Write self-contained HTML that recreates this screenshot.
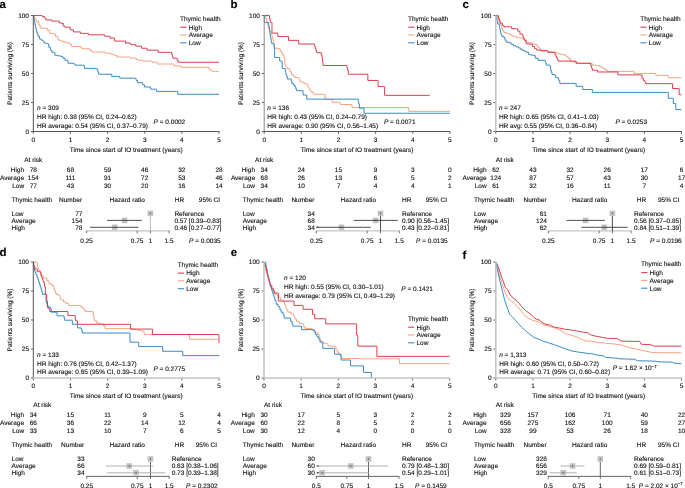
<!DOCTYPE html>
<html><head><meta charset="utf-8"><style>
html,body{margin:0;padding:0;background:#fff;width:685px;height:488px;overflow:hidden}
svg{display:block;will-change:transform}
text{font-family:"Liberation Sans",sans-serif;text-rendering:geometricPrecision;stroke:#111;stroke-width:0.12px}
</style></head><body>
<svg width="685" height="488" viewBox="0 0 685 488">
<rect width="685" height="488" fill="#fff"/>
<path d="M33.21,15.55H34.38V18.03H35.47V19.85H36.57V21.68H38.76V24.60H39.85V26.42H40.95V28.25H46.06V28.25H47.52V30.44H49.71V33.36H53.36V34.09H55.55V36.28H57.74V39.20H59.20V40.66H61.63V41.39H64.06V42.12H66.50V42.85H69.42V44.31H71.61V46.50H80.36V47.23H81.82V48.69H86.93V48.69H89.85V50.58H92.04V52.04H102.99V52.04H105.18V53.07H110.29V53.80H112.12V54.53H113.94V55.26H116.86V57.01H130.00V57.01H130.22V58.18H134.60V58.18H136.06V59.34H138.25V60.36H141.90V60.36H143.36V61.09H150.66V61.09H152.12V62.26H155.77V62.26H157.23V64.01H172.55V64.01H174.01V65.77H179.85V66.20H181.31V67.37H207.59V67.37H209.05V69.85H210.88V70.73H212.70V71.61H218.98V71.61" fill="none" stroke="#f4a583" stroke-width="1.0" stroke-linejoin="miter"/>
<path d="M33.21,15.55H33.60V17.59H33.99V19.64H34.38V21.68H34.96V24.60H35.55V27.52H36.06V29.71H36.57V31.90H37.30V34.09H38.03V36.28H39.49V38.91H41.31V40.15H43.14V41.39H43.87V42.85H45.69V43.36H47.52V43.87H48.69V47.23H50.44V50.15H51.90V52.34H54.82V55.26H57.74V55.84H60.66V56.42H62.85V58.18H65.04V60.36H67.96V63.28H73.80V64.01H75.26V65.18H82.55V65.18H84.31V68.39H96.42V68.39H97.15V70.22H97.88V72.04H98.61V74.23H111.02V74.23H111.75V76.42H119.05V76.42H119.78V78.18H130.00V78.18H135.33V78.25H136.06V80.44H137.52V82.63H141.90V82.63H142.63V84.82H144.53V87.01H149.93V87.01H150.66V89.20H155.77V89.20H156.50V91.39H176.20V91.39H177.66V94.31H218.98V94.31" fill="none" stroke="#3a8bc6" stroke-width="1.0" stroke-linejoin="miter"/>
<path d="M33.21,15.55H41.39V15.55H42.41V16.57H44.60V18.03H45.77V19.93H50.44V19.93H51.61V21.09H57.74V21.09H59.20V22.85H61.39V23.43H63.28V26.06H65.04V27.23H69.12V27.23H70.15V29.85H73.50V31.90H78.91V31.90H80.36V33.36H86.93V33.36H88.39V34.82H102.99V34.82H104.74V36.28H108.83V36.28H110.00V38.03H113.94V38.03H114.67V41.09H124.16V41.09H125.62V43.28H125.62V42.85H129.49V43.58H130.95V44.74H134.60V44.74H135.77V46.20H140.44V46.20H141.61V48.25H145.55V48.25H147.01V50.15H157.23V50.15H158.25V52.34H170.36V52.34H171.82V54.53H172.34V56.35H172.85V58.18H176.20V58.18H177.15V60.22H178.10V62.26H218.98V62.26" fill="none" stroke="#d6404f" stroke-width="1.0" stroke-linejoin="miter"/>
<text x="-0.60" y="8.00" font-size="11.5" text-anchor="start" fill="#000" font-weight="bold">a</text>
<line x1="30.90" y1="131.50" x2="33.30" y2="131.50" stroke="#555" stroke-width="0.9"/>
<text x="29.00" y="133.80" font-size="6.5" text-anchor="end" fill="#111" >0</text>
<line x1="30.90" y1="102.50" x2="33.30" y2="102.50" stroke="#555" stroke-width="0.9"/>
<text x="29.00" y="104.80" font-size="6.5" text-anchor="end" fill="#111" >25</text>
<line x1="30.90" y1="73.50" x2="33.30" y2="73.50" stroke="#555" stroke-width="0.9"/>
<text x="29.00" y="75.80" font-size="6.5" text-anchor="end" fill="#111" >50</text>
<line x1="30.90" y1="44.50" x2="33.30" y2="44.50" stroke="#555" stroke-width="0.9"/>
<text x="29.00" y="46.80" font-size="6.5" text-anchor="end" fill="#111" >75</text>
<line x1="30.90" y1="15.50" x2="33.30" y2="15.50" stroke="#555" stroke-width="0.9"/>
<text x="29.00" y="17.80" font-size="6.5" text-anchor="end" fill="#111" >100</text>
<line x1="33.30" y1="131.50" x2="33.30" y2="133.90" stroke="#555" stroke-width="0.9"/>
<text x="33.30" y="141.80" font-size="6.5" text-anchor="middle" fill="#111" >0</text>
<line x1="70.44" y1="131.50" x2="70.44" y2="133.90" stroke="#555" stroke-width="0.9"/>
<text x="70.44" y="141.80" font-size="6.5" text-anchor="middle" fill="#111" >1</text>
<line x1="107.58" y1="131.50" x2="107.58" y2="133.90" stroke="#555" stroke-width="0.9"/>
<text x="107.58" y="141.80" font-size="6.5" text-anchor="middle" fill="#111" >2</text>
<line x1="144.72" y1="131.50" x2="144.72" y2="133.90" stroke="#555" stroke-width="0.9"/>
<text x="144.72" y="141.80" font-size="6.5" text-anchor="middle" fill="#111" >3</text>
<line x1="181.86" y1="131.50" x2="181.86" y2="133.90" stroke="#555" stroke-width="0.9"/>
<text x="181.86" y="141.80" font-size="6.5" text-anchor="middle" fill="#111" >4</text>
<line x1="219.00" y1="131.50" x2="219.00" y2="133.90" stroke="#555" stroke-width="0.9"/>
<text x="219.00" y="141.80" font-size="6.5" text-anchor="middle" fill="#111" >5</text>
<line x1="33.30" y1="15.20" x2="33.30" y2="131.80" stroke="#555" stroke-width="1.0"/>
<line x1="33.00" y1="131.50" x2="219.30" y2="131.50" stroke="#555" stroke-width="1.0"/>
<text x="0" y="0" font-size="6.5" text-anchor="middle" fill="#111" transform="translate(11.90,73.50) rotate(-90)">Patients surviving (%)</text>
<text x="126.15" y="151.60" font-size="6.5" text-anchor="middle" fill="#111" >Time since start of IO treatment (years)</text>
<text x="180.10" y="20.80" font-size="6.5" text-anchor="start" fill="#111" >Thymic health</text>
<line x1="180.30" y1="27.20" x2="186.50" y2="27.20" stroke="#d6404f" stroke-width="1.1"/>
<text x="188.70" y="29.50" font-size="6.5" text-anchor="start" fill="#111" >High</text>
<line x1="180.30" y1="35.00" x2="186.50" y2="35.00" stroke="#f4a583" stroke-width="1.1"/>
<text x="188.70" y="37.30" font-size="6.5" text-anchor="start" fill="#111" >Average</text>
<line x1="180.30" y1="42.80" x2="186.50" y2="42.80" stroke="#3a8bc6" stroke-width="1.1"/>
<text x="188.70" y="45.10" font-size="6.5" text-anchor="start" fill="#111" >Low</text>
<text x="37.00" y="110.10" font-size="6.5" text-anchor="start" fill="#111" ><tspan font-style="italic">n</tspan> = 309</text>
<text x="37.00" y="118.80" font-size="6.5" text-anchor="start" fill="#111" >HR high: 0.38 (95% CI, 0.24–0.62)</text>
<text x="37.00" y="127.50" font-size="6.5" text-anchor="start" fill="#111" >HR average: 0.54 (95% CI, 0.37–0.79)</text>
<text x="153.60" y="124.30" font-size="6.5" text-anchor="start" fill="#111" ><tspan font-style="italic">P</tspan> = 0.0002</text>
<text x="24.20" y="161.90" font-size="6.5" text-anchor="start" fill="#111" >At risk</text>
<text x="24.10" y="172.30" font-size="6.5" text-anchor="end" fill="#111" >High</text>
<text x="33.30" y="172.30" font-size="6.5" text-anchor="middle" fill="#111" >78</text>
<text x="70.44" y="172.30" font-size="6.5" text-anchor="middle" fill="#111" >68</text>
<text x="107.58" y="172.30" font-size="6.5" text-anchor="middle" fill="#111" >59</text>
<text x="144.72" y="172.30" font-size="6.5" text-anchor="middle" fill="#111" >46</text>
<text x="181.86" y="172.30" font-size="6.5" text-anchor="middle" fill="#111" >32</text>
<text x="219.00" y="172.30" font-size="6.5" text-anchor="middle" fill="#111" >28</text>
<text x="24.10" y="180.00" font-size="6.5" text-anchor="end" fill="#111" >Average</text>
<text x="33.30" y="180.00" font-size="6.5" text-anchor="middle" fill="#111" >154</text>
<text x="70.44" y="180.00" font-size="6.5" text-anchor="middle" fill="#111" >111</text>
<text x="107.58" y="180.00" font-size="6.5" text-anchor="middle" fill="#111" >91</text>
<text x="144.72" y="180.00" font-size="6.5" text-anchor="middle" fill="#111" >72</text>
<text x="181.86" y="180.00" font-size="6.5" text-anchor="middle" fill="#111" >53</text>
<text x="219.00" y="180.00" font-size="6.5" text-anchor="middle" fill="#111" >46</text>
<text x="24.10" y="187.70" font-size="6.5" text-anchor="end" fill="#111" >Low</text>
<text x="33.30" y="187.70" font-size="6.5" text-anchor="middle" fill="#111" >77</text>
<text x="70.44" y="187.70" font-size="6.5" text-anchor="middle" fill="#111" >43</text>
<text x="107.58" y="187.70" font-size="6.5" text-anchor="middle" fill="#111" >30</text>
<text x="144.72" y="187.70" font-size="6.5" text-anchor="middle" fill="#111" >20</text>
<text x="181.86" y="187.70" font-size="6.5" text-anchor="middle" fill="#111" >16</text>
<text x="219.00" y="187.70" font-size="6.5" text-anchor="middle" fill="#111" >14</text>
<text x="11.60" y="202.00" font-size="6.5" text-anchor="start" fill="#111" >Thymic health</text>
<text x="59.00" y="202.00" font-size="6.5" text-anchor="start" fill="#111" >Number</text>
<text x="109.50" y="202.00" font-size="6.5" text-anchor="start" fill="#111" >Hazard ratio</text>
<text x="174.70" y="202.00" font-size="6.5" text-anchor="start" fill="#111" >HR</text>
<text x="198.80" y="202.00" font-size="6.5" text-anchor="start" fill="#111" >95% CI</text>
<text x="11.60" y="215.70" font-size="6.5" text-anchor="start" fill="#111" >Low</text>
<text x="82.40" y="215.70" font-size="6.5" text-anchor="end" fill="#111" >77</text>
<text x="11.60" y="222.70" font-size="6.5" text-anchor="start" fill="#111" >Average</text>
<text x="82.40" y="222.70" font-size="6.5" text-anchor="end" fill="#111" >154</text>
<text x="11.60" y="229.60" font-size="6.5" text-anchor="start" fill="#111" >High</text>
<text x="82.40" y="229.60" font-size="6.5" text-anchor="end" fill="#111" >78</text>
<text x="174.40" y="215.70" font-size="6.5" text-anchor="start" fill="#111" >Reference</text>
<text x="174.40" y="222.70" font-size="6.5" text-anchor="start" fill="#111" >0.57 [0.39–0.83]</text>
<text x="174.40" y="229.60" font-size="6.5" text-anchor="start" fill="#111" >0.46 [0.27–0.77]</text>
<line x1="86.23" y1="230.80" x2="169.45" y2="230.80" stroke="#c4c4c4" stroke-width="1.3"/>
<line x1="86.63" y1="230.80" x2="86.63" y2="233.40" stroke="#666" stroke-width="0.9"/>
<text x="86.63" y="242.50" font-size="6.5" text-anchor="middle" fill="#111" >0.25</text>
<line x1="137.17" y1="230.80" x2="137.17" y2="233.40" stroke="#666" stroke-width="0.9"/>
<text x="137.17" y="242.50" font-size="6.5" text-anchor="middle" fill="#111" >0.75</text>
<line x1="150.40" y1="230.80" x2="150.40" y2="233.40" stroke="#666" stroke-width="0.9"/>
<text x="150.40" y="242.50" font-size="6.5" text-anchor="middle" fill="#111" >1</text>
<line x1="169.05" y1="230.80" x2="169.05" y2="233.40" stroke="#666" stroke-width="0.9"/>
<text x="169.05" y="242.50" font-size="6.5" text-anchor="middle" fill="#111" >1.5</text>
<rect x="147.60" y="210.60" width="5.6" height="5.6" fill="#c2c2c2"/>
<rect x="121.74" y="217.60" width="5.6" height="5.6" fill="#c2c2c2"/>
<rect x="111.88" y="224.50" width="5.6" height="5.6" fill="#c2c2c2"/>
<line x1="150.40" y1="216.20" x2="150.40" y2="230.80" stroke="#b0b0b0" stroke-width="0.9"/>
<line x1="107.09" y1="220.40" x2="141.83" y2="220.40" stroke="#3a3a3a" stroke-width="0.9"/>
<line x1="90.17" y1="227.30" x2="138.38" y2="227.30" stroke="#3a3a3a" stroke-width="0.9"/>
<rect x="149.85" y="212.85" width="1.1" height="1.1" fill="#444"/>
<rect x="123.99" y="219.85" width="1.1" height="1.1" fill="#444"/>
<rect x="114.13" y="226.75" width="1.1" height="1.1" fill="#444"/>
<text x="189.00" y="242.50" font-size="6.5" text-anchor="start" fill="#111" ><tspan font-style="italic">P</tspan> = 0.0035</text>
<path d="M264.38,15.55H265.84V18.76H266.57V21.68H267.30V24.60H268.03V26.79H268.76V28.98H269.85V31.53H270.95V34.09H271.68V35.91H272.41V37.74H273.14V40.66H273.87V43.58H274.60V48.25H278.98V48.69H280.07V50.51H281.17V52.34H282.63V55.26H284.09V58.18H284.82V64.38H285.91V66.57H287.01V68.76H289.93V71.68H291.39V74.60H293.21V76.06H295.04V77.52H298.69V78.25H299.42V80.07H300.15V81.90H303.07V82.63H304.89V83.72H306.72V84.82H308.18V87.74H309.27V89.56H310.36V91.39H312.19V92.85H314.01V94.31H324.23V94.31H324.96V99.42H331.53V100.15H332.26V102.34H339.56V102.34H340.29V104.53H351.24V104.53H351.97V107.45H360.00V107.45H408.28V107.45H408.72V111.39H449.89V111.39" fill="none" stroke="#f4a583" stroke-width="1.0" stroke-linejoin="miter"/>
<path d="M264.38,15.55H264.38V22.41H268.03V22.41H268.54V24.60H269.05V26.79H269.34V29.16H269.64V31.53H269.93V33.91H270.22V36.28H270.71V38.71H271.19V41.14H271.68V43.58H273.43V44.31H273.87V46.28H274.31V48.25H274.60V57.45H278.98V57.45H279.71V61.09H281.61V61.39H282.19V68.39H284.82V68.39H284.82V68.76H285.40V71.68H285.99V74.60H286.72V76.79H287.45V78.98H290.66V78.98H291.24V81.17H291.82V83.36H293.43V85.18H295.04V87.01H295.77V88.83H296.50V90.66H302.34V90.66H303.07V95.04H306.72V95.04H306.72V99.12H357.52V99.12H357.63V99.12H358.14V101.46H358.65V103.80H359.38V108.18H363.47V108.18H364.05V113.28H449.89V113.28" fill="none" stroke="#3a8bc6" stroke-width="1.0" stroke-linejoin="miter"/>
<path d="M264.38,15.55H269.05V15.55H269.49V18.76H270.22V22.41H271.39V22.41H271.97V33.07H277.52V33.07H277.81V36.57H287.74V36.57H288.47V40.36H298.25V40.36H298.69V44.01H314.31V44.01H314.74V46.13H315.18V48.25H315.91V50.44H316.64V52.63H320.58V52.63H321.31V55.04H322.04V57.45H322.38V60.12H322.73V62.80H323.07V65.47H346.42V65.47H347.01V67.81H347.59V70.15H348.32V74.23H360.00V74.23H367.41V74.31H367.85V80.44H377.63V80.44H378.07V86.57H384.20V86.57H384.64V95.33H429.74V95.33" fill="none" stroke="#d6404f" stroke-width="1.0" stroke-linejoin="miter"/>
<text x="230.60" y="8.00" font-size="11.5" text-anchor="start" fill="#000" font-weight="bold">b</text>
<line x1="261.80" y1="131.50" x2="264.20" y2="131.50" stroke="#555" stroke-width="0.9"/>
<text x="259.90" y="133.80" font-size="6.5" text-anchor="end" fill="#111" >0</text>
<line x1="261.80" y1="102.50" x2="264.20" y2="102.50" stroke="#555" stroke-width="0.9"/>
<text x="259.90" y="104.80" font-size="6.5" text-anchor="end" fill="#111" >25</text>
<line x1="261.80" y1="73.50" x2="264.20" y2="73.50" stroke="#555" stroke-width="0.9"/>
<text x="259.90" y="75.80" font-size="6.5" text-anchor="end" fill="#111" >50</text>
<line x1="261.80" y1="44.50" x2="264.20" y2="44.50" stroke="#555" stroke-width="0.9"/>
<text x="259.90" y="46.80" font-size="6.5" text-anchor="end" fill="#111" >75</text>
<line x1="261.80" y1="15.50" x2="264.20" y2="15.50" stroke="#555" stroke-width="0.9"/>
<text x="259.90" y="17.80" font-size="6.5" text-anchor="end" fill="#111" >100</text>
<line x1="264.20" y1="131.50" x2="264.20" y2="133.90" stroke="#555" stroke-width="0.9"/>
<text x="264.20" y="141.80" font-size="6.5" text-anchor="middle" fill="#111" >0</text>
<line x1="301.34" y1="131.50" x2="301.34" y2="133.90" stroke="#555" stroke-width="0.9"/>
<text x="301.34" y="141.80" font-size="6.5" text-anchor="middle" fill="#111" >1</text>
<line x1="338.48" y1="131.50" x2="338.48" y2="133.90" stroke="#555" stroke-width="0.9"/>
<text x="338.48" y="141.80" font-size="6.5" text-anchor="middle" fill="#111" >2</text>
<line x1="375.62" y1="131.50" x2="375.62" y2="133.90" stroke="#555" stroke-width="0.9"/>
<text x="375.62" y="141.80" font-size="6.5" text-anchor="middle" fill="#111" >3</text>
<line x1="412.76" y1="131.50" x2="412.76" y2="133.90" stroke="#555" stroke-width="0.9"/>
<text x="412.76" y="141.80" font-size="6.5" text-anchor="middle" fill="#111" >4</text>
<line x1="449.90" y1="131.50" x2="449.90" y2="133.90" stroke="#555" stroke-width="0.9"/>
<text x="449.90" y="141.80" font-size="6.5" text-anchor="middle" fill="#111" >5</text>
<line x1="264.20" y1="15.20" x2="264.20" y2="131.80" stroke="#8a8a8a" stroke-width="1.0"/>
<line x1="263.90" y1="131.50" x2="450.20" y2="131.50" stroke="#555" stroke-width="1.0"/>
<text x="0" y="0" font-size="6.5" text-anchor="middle" fill="#111" transform="translate(242.80,73.50) rotate(-90)">Patients surviving (%)</text>
<text x="357.05" y="151.60" font-size="6.5" text-anchor="middle" fill="#111" >Time since start of IO treatment (years)</text>
<text x="408.00" y="20.80" font-size="6.5" text-anchor="start" fill="#111" >Thymic health</text>
<line x1="408.20" y1="27.20" x2="414.40" y2="27.20" stroke="#d6404f" stroke-width="1.1"/>
<text x="416.60" y="29.50" font-size="6.5" text-anchor="start" fill="#111" >High</text>
<line x1="408.20" y1="35.00" x2="414.40" y2="35.00" stroke="#f4a583" stroke-width="1.1"/>
<text x="416.60" y="37.30" font-size="6.5" text-anchor="start" fill="#111" >Average</text>
<line x1="408.20" y1="42.80" x2="414.40" y2="42.80" stroke="#3a8bc6" stroke-width="1.1"/>
<text x="416.60" y="45.10" font-size="6.5" text-anchor="start" fill="#111" >Low</text>
<text x="267.20" y="110.10" font-size="6.5" text-anchor="start" fill="#111" ><tspan font-style="italic">n</tspan> = 136</text>
<text x="267.20" y="118.80" font-size="6.5" text-anchor="start" fill="#111" >HR high: 0.43 (95% CI, 0.24–0.79)</text>
<text x="267.20" y="127.50" font-size="6.5" text-anchor="start" fill="#111" >HR average: 0.90 (95% CI, 0.56–1.45)</text>
<text x="383.90" y="124.30" font-size="6.5" text-anchor="start" fill="#111" ><tspan font-style="italic">P</tspan> = 0.0071</text>
<text x="255.10" y="161.90" font-size="6.5" text-anchor="start" fill="#111" >At risk</text>
<text x="255.00" y="172.30" font-size="6.5" text-anchor="end" fill="#111" >High</text>
<text x="264.20" y="172.30" font-size="6.5" text-anchor="middle" fill="#111" >34</text>
<text x="301.34" y="172.30" font-size="6.5" text-anchor="middle" fill="#111" >24</text>
<text x="338.48" y="172.30" font-size="6.5" text-anchor="middle" fill="#111" >15</text>
<text x="375.62" y="172.30" font-size="6.5" text-anchor="middle" fill="#111" >9</text>
<text x="412.76" y="172.30" font-size="6.5" text-anchor="middle" fill="#111" >3</text>
<text x="449.90" y="172.30" font-size="6.5" text-anchor="middle" fill="#111" >0</text>
<text x="255.00" y="180.00" font-size="6.5" text-anchor="end" fill="#111" >Average</text>
<text x="264.20" y="180.00" font-size="6.5" text-anchor="middle" fill="#111" >68</text>
<text x="301.34" y="180.00" font-size="6.5" text-anchor="middle" fill="#111" >26</text>
<text x="338.48" y="180.00" font-size="6.5" text-anchor="middle" fill="#111" >13</text>
<text x="375.62" y="180.00" font-size="6.5" text-anchor="middle" fill="#111" >6</text>
<text x="412.76" y="180.00" font-size="6.5" text-anchor="middle" fill="#111" >5</text>
<text x="449.90" y="180.00" font-size="6.5" text-anchor="middle" fill="#111" >2</text>
<text x="255.00" y="187.70" font-size="6.5" text-anchor="end" fill="#111" >Low</text>
<text x="264.20" y="187.70" font-size="6.5" text-anchor="middle" fill="#111" >34</text>
<text x="301.34" y="187.70" font-size="6.5" text-anchor="middle" fill="#111" >10</text>
<text x="338.48" y="187.70" font-size="6.5" text-anchor="middle" fill="#111" >7</text>
<text x="375.62" y="187.70" font-size="6.5" text-anchor="middle" fill="#111" >4</text>
<text x="412.76" y="187.70" font-size="6.5" text-anchor="middle" fill="#111" >4</text>
<text x="449.90" y="187.70" font-size="6.5" text-anchor="middle" fill="#111" >1</text>
<text x="242.70" y="202.00" font-size="6.5" text-anchor="start" fill="#111" >Thymic health</text>
<text x="291.40" y="202.00" font-size="6.5" text-anchor="start" fill="#111" >Number</text>
<text x="340.60" y="202.00" font-size="6.5" text-anchor="start" fill="#111" >Hazard ratio</text>
<text x="402.00" y="202.00" font-size="6.5" text-anchor="start" fill="#111" >HR</text>
<text x="425.70" y="202.00" font-size="6.5" text-anchor="start" fill="#111" >95% CI</text>
<text x="242.70" y="215.70" font-size="6.5" text-anchor="start" fill="#111" >Low</text>
<text x="314.80" y="215.70" font-size="6.5" text-anchor="end" fill="#111" >34</text>
<text x="242.70" y="222.70" font-size="6.5" text-anchor="start" fill="#111" >Average</text>
<text x="314.80" y="222.70" font-size="6.5" text-anchor="end" fill="#111" >68</text>
<text x="242.70" y="229.60" font-size="6.5" text-anchor="start" fill="#111" >High</text>
<text x="314.80" y="229.60" font-size="6.5" text-anchor="end" fill="#111" >34</text>
<text x="402.00" y="215.70" font-size="6.5" text-anchor="start" fill="#111" >Reference</text>
<text x="402.00" y="222.70" font-size="6.5" text-anchor="start" fill="#111" >0.90 [0.56–1.45]</text>
<text x="402.00" y="229.60" font-size="6.5" text-anchor="start" fill="#111" >0.43 [0.22–0.81]</text>
<line x1="315.91" y1="230.80" x2="399.67" y2="230.80" stroke="#c4c4c4" stroke-width="1.3"/>
<line x1="316.31" y1="230.80" x2="316.31" y2="233.40" stroke="#666" stroke-width="0.9"/>
<text x="316.31" y="242.50" font-size="6.5" text-anchor="middle" fill="#111" >0.25</text>
<line x1="367.18" y1="230.80" x2="367.18" y2="233.40" stroke="#666" stroke-width="0.9"/>
<text x="367.18" y="242.50" font-size="6.5" text-anchor="middle" fill="#111" >0.75</text>
<line x1="380.50" y1="230.80" x2="380.50" y2="233.40" stroke="#666" stroke-width="0.9"/>
<text x="380.50" y="242.50" font-size="6.5" text-anchor="middle" fill="#111" >1</text>
<line x1="399.27" y1="230.80" x2="399.27" y2="233.40" stroke="#666" stroke-width="0.9"/>
<text x="399.27" y="242.50" font-size="6.5" text-anchor="middle" fill="#111" >1.5</text>
<rect x="377.70" y="210.60" width="5.6" height="5.6" fill="#c2c2c2"/>
<rect x="372.82" y="217.60" width="5.6" height="5.6" fill="#c2c2c2"/>
<rect x="338.62" y="224.50" width="5.6" height="5.6" fill="#c2c2c2"/>
<line x1="380.50" y1="216.20" x2="380.50" y2="230.80" stroke="#3a3a3a" stroke-width="0.9"/>
<line x1="353.65" y1="220.40" x2="397.70" y2="220.40" stroke="#3a3a3a" stroke-width="0.9"/>
<line x1="316.31" y1="227.30" x2="370.74" y2="227.30" stroke="#3a3a3a" stroke-width="0.9"/>
<path d="M316.51,227.30 l1.9,-1.0 v2.0 z" fill="#333"/>
<rect x="379.95" y="212.85" width="1.1" height="1.1" fill="#444"/>
<rect x="375.07" y="219.85" width="1.1" height="1.1" fill="#444"/>
<rect x="340.87" y="226.75" width="1.1" height="1.1" fill="#444"/>
<text x="416.00" y="242.50" font-size="6.5" text-anchor="start" fill="#111" ><tspan font-style="italic">P</tspan> = 0.0135</text>
<path d="M495.84,15.55H497.30V18.76H498.18V20.58H499.05V22.41H500.00V24.23H500.95V26.06H501.68V28.25H502.41V30.44H503.87V32.63H506.79V33.36H509.71V34.82H511.53V35.55H513.36V36.28H516.28V37.74H520.66V38.47H522.48V39.20H524.31V39.93H525.77V42.12H529.42V42.85H531.61V43.58H533.80V44.31H536.72V45.77H538.18V47.59H539.64V49.42H541.09V51.17H545.47V51.17H547.66V51.61H549.85V52.04H554.23V52.34H556.42V53.07H558.61V53.80H561.53V54.53H564.45V55.26H566.28V56.72H568.10V58.18H570.29V61.09H572.12V61.68H573.94V62.26H575.77V62.77H577.59V63.28H590.00V63.72H590.84V63.65H592.30V65.11H596.68V65.55H599.60V66.57H601.42V67.66H603.25V68.76H605.44V70.07H607.63V71.39H633.18V71.39H633.91V73.43H655.07V73.43H655.80V75.33H667.48V75.33H668.21V77.81H681.35V77.81" fill="none" stroke="#f4a583" stroke-width="1.0" stroke-linejoin="miter"/>
<path d="M495.84,15.55H496.57V19.49H497.08V21.68H497.59V23.87H499.05V25.33H499.54V27.76H500.02V30.19H500.51V32.63H501.09V34.45H501.68V36.28H503.87V37.74H504.96V39.93H506.06V42.12H508.98V42.85H511.17V44.31H513.36V45.77H515.91V46.86H518.47V47.96H520.29V49.05H522.12V50.15H524.31V51.24H526.50V52.34H528.69V54.53H530.88V55.04H533.07V55.55H535.26V58.18H538.18V60.36H544.74V60.36H545.47V62.74H546.20V65.11H549.85V65.84H550.58V70.22H551.31V72.41H552.04V74.60H554.96V75.33H555.69V77.52H557.45V77.81H558.61V80.44H559.78V83.36H575.40V83.36H576.13V86.28H581.97V86.28H582.70V89.49H590.00V89.49H591.57V89.49H592.30V92.41H667.48V92.41H668.21V98.25H672.59V98.25H673.32V103.50H675.51V103.50H675.80V109.64H681.35V109.64" fill="none" stroke="#3a8bc6" stroke-width="1.0" stroke-linejoin="miter"/>
<path d="M495.84,15.55H497.59V15.55H498.47V18.76H499.49V20.95H500.22V23.14H502.41V25.33H503.87V26.79H510.44V26.79H511.61V28.69H516.28V28.69H517.74V31.17H519.93V34.09H522.85V37.01H523.80V38.83H524.74V40.66H526.20V43.87H530.15V44.31H532.34V46.50H534.53V48.69H536.72V50.15H541.09V50.58H546.93V50.88H547.66V52.34H553.50V52.34H554.96V54.53H555.94V56.72H556.91V58.91H557.88V61.09H574.67V61.09H576.13V63.28H590.00V63.28H590.78V65.66H591.57V68.03H592.30V70.22H596.97V70.22H597.41V71.97H617.12V71.97H617.85V74.89H641.20V74.89H641.93V78.25H643.39V80.44H644.85V81.90H645.58V83.65H671.86V83.65H672.59V88.47H678.43V88.47H679.16V94.74H681.35V94.74" fill="none" stroke="#d6404f" stroke-width="1.0" stroke-linejoin="miter"/>
<text x="462.60" y="8.00" font-size="11.5" text-anchor="start" fill="#000" font-weight="bold">c</text>
<line x1="493.40" y1="131.50" x2="495.80" y2="131.50" stroke="#555" stroke-width="0.9"/>
<text x="491.50" y="133.80" font-size="6.5" text-anchor="end" fill="#111" >0</text>
<line x1="493.40" y1="102.50" x2="495.80" y2="102.50" stroke="#555" stroke-width="0.9"/>
<text x="491.50" y="104.80" font-size="6.5" text-anchor="end" fill="#111" >25</text>
<line x1="493.40" y1="73.50" x2="495.80" y2="73.50" stroke="#555" stroke-width="0.9"/>
<text x="491.50" y="75.80" font-size="6.5" text-anchor="end" fill="#111" >50</text>
<line x1="493.40" y1="44.50" x2="495.80" y2="44.50" stroke="#555" stroke-width="0.9"/>
<text x="491.50" y="46.80" font-size="6.5" text-anchor="end" fill="#111" >75</text>
<line x1="493.40" y1="15.50" x2="495.80" y2="15.50" stroke="#555" stroke-width="0.9"/>
<text x="491.50" y="17.80" font-size="6.5" text-anchor="end" fill="#111" >100</text>
<line x1="495.80" y1="131.50" x2="495.80" y2="133.90" stroke="#555" stroke-width="0.9"/>
<text x="495.80" y="141.80" font-size="6.5" text-anchor="middle" fill="#111" >0</text>
<line x1="532.94" y1="131.50" x2="532.94" y2="133.90" stroke="#555" stroke-width="0.9"/>
<text x="532.94" y="141.80" font-size="6.5" text-anchor="middle" fill="#111" >1</text>
<line x1="570.08" y1="131.50" x2="570.08" y2="133.90" stroke="#555" stroke-width="0.9"/>
<text x="570.08" y="141.80" font-size="6.5" text-anchor="middle" fill="#111" >2</text>
<line x1="607.22" y1="131.50" x2="607.22" y2="133.90" stroke="#555" stroke-width="0.9"/>
<text x="607.22" y="141.80" font-size="6.5" text-anchor="middle" fill="#111" >3</text>
<line x1="644.36" y1="131.50" x2="644.36" y2="133.90" stroke="#555" stroke-width="0.9"/>
<text x="644.36" y="141.80" font-size="6.5" text-anchor="middle" fill="#111" >4</text>
<line x1="681.50" y1="131.50" x2="681.50" y2="133.90" stroke="#555" stroke-width="0.9"/>
<text x="681.50" y="141.80" font-size="6.5" text-anchor="middle" fill="#111" >5</text>
<line x1="495.80" y1="15.20" x2="495.80" y2="131.80" stroke="#c4c4c4" stroke-width="1.6"/>
<line x1="495.50" y1="131.50" x2="681.80" y2="131.50" stroke="#555" stroke-width="1.0"/>
<text x="0" y="0" font-size="6.5" text-anchor="middle" fill="#111" transform="translate(474.40,73.50) rotate(-90)">Patients surviving (%)</text>
<text x="588.65" y="151.60" font-size="6.5" text-anchor="middle" fill="#111" >Time since start of IO treatment (years)</text>
<text x="640.20" y="20.80" font-size="6.5" text-anchor="start" fill="#111" >Thymic health</text>
<line x1="640.40" y1="27.20" x2="646.60" y2="27.20" stroke="#d6404f" stroke-width="1.1"/>
<text x="648.80" y="29.50" font-size="6.5" text-anchor="start" fill="#111" >High</text>
<line x1="640.40" y1="35.00" x2="646.60" y2="35.00" stroke="#f4a583" stroke-width="1.1"/>
<text x="648.80" y="37.30" font-size="6.5" text-anchor="start" fill="#111" >Average</text>
<line x1="640.40" y1="42.80" x2="646.60" y2="42.80" stroke="#3a8bc6" stroke-width="1.1"/>
<text x="648.80" y="45.10" font-size="6.5" text-anchor="start" fill="#111" >Low</text>
<text x="498.90" y="110.40" font-size="6.5" text-anchor="start" fill="#111" ><tspan font-style="italic">n</tspan> = 247</text>
<text x="498.90" y="119.10" font-size="6.5" text-anchor="start" fill="#111" >HR high: 0.65 (95% CI, 0.41–1.03)</text>
<text x="498.90" y="127.80" font-size="6.5" text-anchor="start" fill="#111" >HR avg: 0.55 (95% CI, 0.36–0.84)</text>
<text x="615.40" y="123.70" font-size="6.5" text-anchor="start" fill="#111" ><tspan font-style="italic">P</tspan> = 0.0253</text>
<text x="495.80" y="161.90" font-size="6.5" text-anchor="start" fill="#111" >At risk</text>
<text x="486.60" y="172.30" font-size="6.5" text-anchor="end" fill="#111" >High</text>
<text x="495.80" y="172.30" font-size="6.5" text-anchor="middle" fill="#111" >62</text>
<text x="532.94" y="172.30" font-size="6.5" text-anchor="middle" fill="#111" >43</text>
<text x="570.08" y="172.30" font-size="6.5" text-anchor="middle" fill="#111" >32</text>
<text x="607.22" y="172.30" font-size="6.5" text-anchor="middle" fill="#111" >26</text>
<text x="644.36" y="172.30" font-size="6.5" text-anchor="middle" fill="#111" >17</text>
<text x="681.50" y="172.30" font-size="6.5" text-anchor="middle" fill="#111" >6</text>
<text x="486.60" y="180.00" font-size="6.5" text-anchor="end" fill="#111" >Average</text>
<text x="495.80" y="180.00" font-size="6.5" text-anchor="middle" fill="#111" >124</text>
<text x="532.94" y="180.00" font-size="6.5" text-anchor="middle" fill="#111" >87</text>
<text x="570.08" y="180.00" font-size="6.5" text-anchor="middle" fill="#111" >57</text>
<text x="607.22" y="180.00" font-size="6.5" text-anchor="middle" fill="#111" >43</text>
<text x="644.36" y="180.00" font-size="6.5" text-anchor="middle" fill="#111" >30</text>
<text x="681.50" y="180.00" font-size="6.5" text-anchor="middle" fill="#111" >17</text>
<text x="486.60" y="187.70" font-size="6.5" text-anchor="end" fill="#111" >Low</text>
<text x="495.80" y="187.70" font-size="6.5" text-anchor="middle" fill="#111" >61</text>
<text x="532.94" y="187.70" font-size="6.5" text-anchor="middle" fill="#111" >32</text>
<text x="570.08" y="187.70" font-size="6.5" text-anchor="middle" fill="#111" >16</text>
<text x="607.22" y="187.70" font-size="6.5" text-anchor="middle" fill="#111" >11</text>
<text x="644.36" y="187.70" font-size="6.5" text-anchor="middle" fill="#111" >7</text>
<text x="681.50" y="187.70" font-size="6.5" text-anchor="middle" fill="#111" >4</text>
<text x="474.00" y="202.00" font-size="6.5" text-anchor="start" fill="#111" >Thymic health</text>
<text x="523.50" y="202.00" font-size="6.5" text-anchor="start" fill="#111" >Number</text>
<text x="571.90" y="202.00" font-size="6.5" text-anchor="start" fill="#111" >Hazard ratio</text>
<text x="636.80" y="202.00" font-size="6.5" text-anchor="start" fill="#111" >HR</text>
<text x="658.00" y="202.00" font-size="6.5" text-anchor="start" fill="#111" >95% CI</text>
<text x="474.00" y="215.70" font-size="6.5" text-anchor="start" fill="#111" >Low</text>
<text x="546.90" y="215.70" font-size="6.5" text-anchor="end" fill="#111" >61</text>
<text x="474.00" y="222.70" font-size="6.5" text-anchor="start" fill="#111" >Average</text>
<text x="546.90" y="222.70" font-size="6.5" text-anchor="end" fill="#111" >124</text>
<text x="474.00" y="229.60" font-size="6.5" text-anchor="start" fill="#111" >High</text>
<text x="546.90" y="229.60" font-size="6.5" text-anchor="end" fill="#111" >62</text>
<text x="634.00" y="215.70" font-size="6.5" text-anchor="start" fill="#111" >Reference</text>
<text x="634.00" y="222.70" font-size="6.5" text-anchor="start" fill="#111" >0.56 [0.37–0.85]</text>
<text x="634.00" y="229.60" font-size="6.5" text-anchor="start" fill="#111" >0.84 [0.51–1.39]</text>
<line x1="547.95" y1="230.80" x2="631.53" y2="230.80" stroke="#c4c4c4" stroke-width="1.3"/>
<line x1="548.35" y1="230.80" x2="548.35" y2="233.40" stroke="#666" stroke-width="0.9"/>
<text x="548.35" y="242.50" font-size="6.5" text-anchor="middle" fill="#111" >0.25</text>
<line x1="599.11" y1="230.80" x2="599.11" y2="233.40" stroke="#666" stroke-width="0.9"/>
<text x="599.11" y="242.50" font-size="6.5" text-anchor="middle" fill="#111" >0.75</text>
<line x1="612.40" y1="230.80" x2="612.40" y2="233.40" stroke="#666" stroke-width="0.9"/>
<text x="612.40" y="242.50" font-size="6.5" text-anchor="middle" fill="#111" >1</text>
<line x1="631.13" y1="230.80" x2="631.13" y2="233.40" stroke="#666" stroke-width="0.9"/>
<text x="631.13" y="242.50" font-size="6.5" text-anchor="middle" fill="#111" >1.5</text>
<rect x="609.60" y="210.60" width="5.6" height="5.6" fill="#c2c2c2"/>
<rect x="582.81" y="217.60" width="5.6" height="5.6" fill="#c2c2c2"/>
<rect x="601.54" y="224.50" width="5.6" height="5.6" fill="#c2c2c2"/>
<line x1="612.40" y1="216.20" x2="612.40" y2="230.80" stroke="#3a3a3a" stroke-width="0.9"/>
<line x1="566.47" y1="220.40" x2="604.89" y2="220.40" stroke="#3a3a3a" stroke-width="0.9"/>
<line x1="581.29" y1="227.30" x2="627.61" y2="227.30" stroke="#3a3a3a" stroke-width="0.9"/>
<rect x="611.85" y="212.85" width="1.1" height="1.1" fill="#444"/>
<rect x="585.06" y="219.85" width="1.1" height="1.1" fill="#444"/>
<rect x="603.79" y="226.75" width="1.1" height="1.1" fill="#444"/>
<text x="650.10" y="242.50" font-size="6.5" text-anchor="start" fill="#111" ><tspan font-style="italic">P</tspan> = 0.0196</text>
<path d="M33.21,262.13H36.57V262.13H37.30V266.95H38.03V268.77H38.76V270.60H40.22V272.06H40.80V273.88H41.39V275.71H43.14V277.90H45.33V278.19H46.79V280.82H48.98V283.74H51.90V285.20H53.36V287.39H54.09V289.21H54.82V291.04H55.55V292.86H56.28V294.69H59.20V295.42H59.93V297.61H60.66V299.80H63.58V301.99H65.77V303.45H68.69V305.64H80.36V306.36H81.82V307.82H84.01V310.01H85.47V311.47H92.77V312.20H93.26V315.00H93.75V317.80H94.23V320.60H96.42V322.79H98.25V323.30H100.07V323.81H102.99V325.71H105.18V328.63H130.00V328.63H132.23V329.11H134.45V329.60H136.68V330.09H138.91V330.57H141.13V331.06H143.36V331.55H144.09V334.47H188.91V334.47H189.34V339.28H217.81V339.28" fill="none" stroke="#f4a583" stroke-width="1.0" stroke-linejoin="miter"/>
<path d="M33.21,262.13H33.65V267.68H34.38V270.60H35.11V272.42H35.84V274.25H36.93V277.17H38.03V280.09H38.76V282.28H39.49V284.47H40.22V286.66H40.95V288.85H41.68V291.55H42.41V294.25H45.33V294.25H46.06V301.26H46.64V303.45H47.23V305.64H48.25V307.09H50.44V308.55H51.17V312.20H56.28V312.20H57.01V315.85H63.58V316.15H64.16V318.19H64.74V320.23H71.61V320.23H72.34V324.32H76.72V324.25H77.45V327.90H81.09V328.63H81.68V330.82H82.26V333.01H130.00V333.01H130.00V342.20H138.25V342.20H138.69V346.58H162.34V346.58H162.63V351.26H182.48V351.26H182.77V355.64H219.27V355.64" fill="none" stroke="#3a8bc6" stroke-width="1.0" stroke-linejoin="miter"/>
<path d="M33.21,262.13H33.65V265.49H34.38V267.31H35.11V269.14H36.57V269.14H37.30V271.77H40.22V272.06H40.95V275.71H41.68V277.53H42.41V279.36H43.14V281.18H43.87V283.01H44.60V286.66H45.33V293.96H46.35V294.69H46.79V301.26H47.52V307.82H48.98V308.85H49.71V311.47H67.23V311.47H67.96V315.56H74.53V315.56H75.26V320.23H76.72V320.96H77.45V324.32H130.00V324.32H130.00V324.25H130.51V329.07H151.82V329.07H152.41V334.47H218.54V334.47H218.98V343.23" fill="none" stroke="#d6404f" stroke-width="1.0" stroke-linejoin="miter"/>
<text x="-0.60" y="255.60" font-size="11.5" text-anchor="start" fill="#000" font-weight="bold">d</text>
<line x1="30.90" y1="378.00" x2="33.30" y2="378.00" stroke="#555" stroke-width="0.9"/>
<text x="29.00" y="380.30" font-size="6.5" text-anchor="end" fill="#111" >0</text>
<line x1="30.90" y1="349.00" x2="33.30" y2="349.00" stroke="#555" stroke-width="0.9"/>
<text x="29.00" y="351.30" font-size="6.5" text-anchor="end" fill="#111" >25</text>
<line x1="30.90" y1="320.00" x2="33.30" y2="320.00" stroke="#555" stroke-width="0.9"/>
<text x="29.00" y="322.30" font-size="6.5" text-anchor="end" fill="#111" >50</text>
<line x1="30.90" y1="291.00" x2="33.30" y2="291.00" stroke="#555" stroke-width="0.9"/>
<text x="29.00" y="293.30" font-size="6.5" text-anchor="end" fill="#111" >75</text>
<line x1="30.90" y1="262.00" x2="33.30" y2="262.00" stroke="#555" stroke-width="0.9"/>
<text x="29.00" y="264.30" font-size="6.5" text-anchor="end" fill="#111" >100</text>
<line x1="33.30" y1="378.00" x2="33.30" y2="380.40" stroke="#555" stroke-width="0.9"/>
<text x="33.30" y="388.30" font-size="6.5" text-anchor="middle" fill="#111" >0</text>
<line x1="70.44" y1="378.00" x2="70.44" y2="380.40" stroke="#555" stroke-width="0.9"/>
<text x="70.44" y="388.30" font-size="6.5" text-anchor="middle" fill="#111" >1</text>
<line x1="107.58" y1="378.00" x2="107.58" y2="380.40" stroke="#555" stroke-width="0.9"/>
<text x="107.58" y="388.30" font-size="6.5" text-anchor="middle" fill="#111" >2</text>
<line x1="144.72" y1="378.00" x2="144.72" y2="380.40" stroke="#555" stroke-width="0.9"/>
<text x="144.72" y="388.30" font-size="6.5" text-anchor="middle" fill="#111" >3</text>
<line x1="181.86" y1="378.00" x2="181.86" y2="380.40" stroke="#555" stroke-width="0.9"/>
<text x="181.86" y="388.30" font-size="6.5" text-anchor="middle" fill="#111" >4</text>
<line x1="219.00" y1="378.00" x2="219.00" y2="380.40" stroke="#555" stroke-width="0.9"/>
<text x="219.00" y="388.30" font-size="6.5" text-anchor="middle" fill="#111" >5</text>
<line x1="33.30" y1="261.70" x2="33.30" y2="378.30" stroke="#555" stroke-width="1.0"/>
<line x1="33.00" y1="378.00" x2="219.30" y2="378.00" stroke="#c4c4c4" stroke-width="1.6"/>
<text x="0" y="0" font-size="6.5" text-anchor="middle" fill="#111" transform="translate(11.90,320.00) rotate(-90)">Patients surviving (%)</text>
<text x="126.15" y="398.10" font-size="6.5" text-anchor="middle" fill="#111" >Time since start of IO treatment (years)</text>
<text x="177.60" y="266.70" font-size="6.5" text-anchor="start" fill="#111" >Thymic health</text>
<line x1="177.80" y1="273.10" x2="184.00" y2="273.10" stroke="#d6404f" stroke-width="1.1"/>
<text x="186.20" y="275.40" font-size="6.5" text-anchor="start" fill="#111" >High</text>
<line x1="177.80" y1="280.90" x2="184.00" y2="280.90" stroke="#f4a583" stroke-width="1.1"/>
<text x="186.20" y="283.20" font-size="6.5" text-anchor="start" fill="#111" >Average</text>
<line x1="177.80" y1="288.70" x2="184.00" y2="288.70" stroke="#3a8bc6" stroke-width="1.1"/>
<text x="186.20" y="291.00" font-size="6.5" text-anchor="start" fill="#111" >Low</text>
<text x="37.00" y="356.80" font-size="6.5" text-anchor="start" fill="#111" ><tspan font-style="italic">n</tspan> = 133</text>
<text x="37.00" y="365.50" font-size="6.5" text-anchor="start" fill="#111" >HR high: 0.76 (95% CI, 0.42–1.37)</text>
<text x="37.00" y="374.20" font-size="6.5" text-anchor="start" fill="#111" >HR average: 0.65 (95% CI, 0.39–1.09)</text>
<text x="153.40" y="371.40" font-size="6.5" text-anchor="start" fill="#111" ><tspan font-style="italic">P</tspan> = 0.2775</text>
<text x="33.30" y="407.30" font-size="6.5" text-anchor="start" fill="#111" >At risk</text>
<text x="24.10" y="417.30" font-size="6.5" text-anchor="end" fill="#111" >High</text>
<text x="33.30" y="417.30" font-size="6.5" text-anchor="middle" fill="#111" >34</text>
<text x="70.44" y="417.30" font-size="6.5" text-anchor="middle" fill="#111" >15</text>
<text x="107.58" y="417.30" font-size="6.5" text-anchor="middle" fill="#111" >11</text>
<text x="144.72" y="417.30" font-size="6.5" text-anchor="middle" fill="#111" >9</text>
<text x="181.86" y="417.30" font-size="6.5" text-anchor="middle" fill="#111" >5</text>
<text x="219.00" y="417.30" font-size="6.5" text-anchor="middle" fill="#111" >4</text>
<text x="24.10" y="425.10" font-size="6.5" text-anchor="end" fill="#111" >Average</text>
<text x="33.30" y="425.10" font-size="6.5" text-anchor="middle" fill="#111" >66</text>
<text x="70.44" y="425.10" font-size="6.5" text-anchor="middle" fill="#111" >36</text>
<text x="107.58" y="425.10" font-size="6.5" text-anchor="middle" fill="#111" >22</text>
<text x="144.72" y="425.10" font-size="6.5" text-anchor="middle" fill="#111" >14</text>
<text x="181.86" y="425.10" font-size="6.5" text-anchor="middle" fill="#111" >12</text>
<text x="219.00" y="425.10" font-size="6.5" text-anchor="middle" fill="#111" >4</text>
<text x="24.10" y="432.70" font-size="6.5" text-anchor="end" fill="#111" >Low</text>
<text x="33.30" y="432.70" font-size="6.5" text-anchor="middle" fill="#111" >33</text>
<text x="70.44" y="432.70" font-size="6.5" text-anchor="middle" fill="#111" >13</text>
<text x="107.58" y="432.70" font-size="6.5" text-anchor="middle" fill="#111" >10</text>
<text x="144.72" y="432.70" font-size="6.5" text-anchor="middle" fill="#111" >7</text>
<text x="181.86" y="432.70" font-size="6.5" text-anchor="middle" fill="#111" >6</text>
<text x="219.00" y="432.70" font-size="6.5" text-anchor="middle" fill="#111" >5</text>
<text x="11.60" y="447.40" font-size="6.5" text-anchor="start" fill="#111" >Thymic health</text>
<text x="61.10" y="447.40" font-size="6.5" text-anchor="start" fill="#111" >Number</text>
<text x="109.50" y="447.40" font-size="6.5" text-anchor="start" fill="#111" >Hazard ratio</text>
<text x="174.70" y="447.40" font-size="6.5" text-anchor="start" fill="#111" >HR</text>
<text x="195.70" y="447.40" font-size="6.5" text-anchor="start" fill="#111" >95% CI</text>
<text x="11.60" y="461.30" font-size="6.5" text-anchor="start" fill="#111" >Low</text>
<text x="84.50" y="461.30" font-size="6.5" text-anchor="end" fill="#111" >33</text>
<text x="11.60" y="468.30" font-size="6.5" text-anchor="start" fill="#111" >Average</text>
<text x="84.50" y="468.30" font-size="6.5" text-anchor="end" fill="#111" >66</text>
<text x="11.60" y="475.10" font-size="6.5" text-anchor="start" fill="#111" >High</text>
<text x="84.50" y="475.10" font-size="6.5" text-anchor="end" fill="#111" >34</text>
<text x="171.70" y="461.30" font-size="6.5" text-anchor="start" fill="#111" >Reference</text>
<text x="171.70" y="468.30" font-size="6.5" text-anchor="start" fill="#111" >0.63 [0.38–1.06]</text>
<text x="171.70" y="475.10" font-size="6.5" text-anchor="start" fill="#111" >0.73 [0.39–1.38]</text>
<line x1="86.33" y1="476.40" x2="169.55" y2="476.40" stroke="#555" stroke-width="0.9"/>
<line x1="86.73" y1="476.40" x2="86.73" y2="479.00" stroke="#666" stroke-width="0.9"/>
<text x="86.73" y="487.60" font-size="6.5" text-anchor="middle" fill="#111" >0.25</text>
<line x1="137.27" y1="476.40" x2="137.27" y2="479.00" stroke="#666" stroke-width="0.9"/>
<text x="137.27" y="487.60" font-size="6.5" text-anchor="middle" fill="#111" >0.75</text>
<line x1="150.50" y1="476.40" x2="150.50" y2="479.00" stroke="#666" stroke-width="0.9"/>
<text x="150.50" y="487.60" font-size="6.5" text-anchor="middle" fill="#111" >1</text>
<line x1="169.15" y1="476.40" x2="169.15" y2="479.00" stroke="#666" stroke-width="0.9"/>
<text x="169.15" y="487.60" font-size="6.5" text-anchor="middle" fill="#111" >1.5</text>
<rect x="147.70" y="456.20" width="5.6" height="5.6" fill="#c2c2c2"/>
<rect x="126.45" y="463.20" width="5.6" height="5.6" fill="#c2c2c2"/>
<rect x="133.22" y="470.00" width="5.6" height="5.6" fill="#c2c2c2"/>
<line x1="150.50" y1="461.80" x2="150.50" y2="476.40" stroke="#555" stroke-width="0.9"/>
<line x1="105.99" y1="466.00" x2="153.18" y2="466.00" stroke="#a8a8a8" stroke-width="0.9"/>
<line x1="107.19" y1="472.80" x2="165.32" y2="472.80" stroke="#a8a8a8" stroke-width="0.9"/>
<rect x="149.95" y="458.45" width="1.1" height="1.1" fill="#444"/>
<rect x="128.70" y="465.45" width="1.1" height="1.1" fill="#444"/>
<rect x="135.47" y="472.25" width="1.1" height="1.1" fill="#444"/>
<text x="186.00" y="487.60" font-size="6.5" text-anchor="start" fill="#111" ><tspan font-style="italic">P</tspan> = 0.2302</text>
<path d="M264.22,262.31H264.46V264.15H264.87V266.21H265.28V268.26H265.69V270.31H266.31V272.77H266.92V275.23H267.54V277.08H268.15V278.92H269.08V281.69H270.00V284.46H270.92V286.92H271.85V289.38H272.77V291.23H273.69V293.08H275.54V294.92H278.00V297.38H280.46V299.85H283.54V300.46H284.15V302.62H284.77V304.77H285.38V306.62H286.00V308.46H286.92V310.31H287.85V312.15H290.92V314.00H293.38V315.85H294.62V318.06H295.04V319.14H296.50V321.33H298.69V322.06H299.42V323.52H302.34V324.25H303.80V327.17H305.26V328.63H311.82V329.07H313.28V330.82H314.74V332.28H317.66V334.47H319.12V337.39H319.85V339.58H320.58V341.77H323.50V343.23H327.15V343.66H327.88V345.71H330.32V346.00H332.75V346.29H335.18V346.58H335.91V349.80H337.37V352.42H338.83V354.18H340.29V356.36H341.75V358.55H360.00V358.85H399.09V358.85H399.53V363.66H449.60V363.66" fill="none" stroke="#f4a583" stroke-width="1.0" stroke-linejoin="miter"/>
<path d="M264.22,262.31H265.69V265.38H266.18V267.23H266.68V269.08H267.11V271.54H267.54V274.00H267.97V275.85H268.40V277.69H268.89V280.15H269.38V282.62H269.88V284.46H270.37V286.31H270.98V288.15H271.60V290.00H272.22V291.85H272.83V293.69H273.45V295.54H274.06V297.38H274.68V299.23H275.29V301.08H276.15V304.15H278.00V306.62H279.85V309.69H281.08V312.15H282.92V314.00H283.91V315.85H284.15V318.06H284.15V318.04H289.20V318.04H290.66V320.96H290.66V321.33H292.12V324.25H292.85V326.15H300.88V326.15H301.61V329.65H312.55V330.09H314.74V332.28H315.47V334.47H316.93V336.66H318.39V338.85H319.85V341.77H322.04V343.23H322.77V348.34H333.72V348.34H334.45V354.18H340.29V354.18H341.02V360.01H349.78V360.01H350.51V365.85H360.00V365.85H363.03V365.85H363.47V372.42H371.06V372.42H371.35V377.97" fill="none" stroke="#3a8bc6" stroke-width="1.0" stroke-linejoin="miter"/>
<path d="M263.85,262.68H264.77V264.95H265.69V267.23H266.31V270.00H266.92V272.77H267.54V275.23H268.15V277.69H268.65V279.85H269.14V282.00H269.75V283.85H270.37V285.69H271.85V288.77H273.69V290.62H274.31V293.08H278.00V293.08H278.37V301.08H293.38V301.08H294.00V305.38H302.00V305.38H302.63V305.64H303.07V309.28H311.82V309.28H312.55V314.39H314.31V314.39H314.74V318.77H324.96V318.77H325.69V323.88H356.35V323.88H356.64V335.20H357.52V336.66H357.81V346.15H360.00V346.15H376.61V346.15H376.90V356.36H449.60V356.36" fill="none" stroke="#d6404f" stroke-width="1.0" stroke-linejoin="miter"/>
<text x="230.80" y="255.60" font-size="11.5" text-anchor="start" fill="#000" font-weight="bold">e</text>
<line x1="261.60" y1="378.00" x2="264.00" y2="378.00" stroke="#555" stroke-width="0.9"/>
<text x="259.70" y="380.30" font-size="6.5" text-anchor="end" fill="#111" >0</text>
<line x1="261.60" y1="349.00" x2="264.00" y2="349.00" stroke="#555" stroke-width="0.9"/>
<text x="259.70" y="351.30" font-size="6.5" text-anchor="end" fill="#111" >25</text>
<line x1="261.60" y1="320.00" x2="264.00" y2="320.00" stroke="#555" stroke-width="0.9"/>
<text x="259.70" y="322.30" font-size="6.5" text-anchor="end" fill="#111" >50</text>
<line x1="261.60" y1="291.00" x2="264.00" y2="291.00" stroke="#555" stroke-width="0.9"/>
<text x="259.70" y="293.30" font-size="6.5" text-anchor="end" fill="#111" >75</text>
<line x1="261.60" y1="262.00" x2="264.00" y2="262.00" stroke="#555" stroke-width="0.9"/>
<text x="259.70" y="264.30" font-size="6.5" text-anchor="end" fill="#111" >100</text>
<line x1="264.00" y1="378.00" x2="264.00" y2="380.40" stroke="#555" stroke-width="0.9"/>
<text x="264.00" y="388.30" font-size="6.5" text-anchor="middle" fill="#111" >0</text>
<line x1="301.14" y1="378.00" x2="301.14" y2="380.40" stroke="#555" stroke-width="0.9"/>
<text x="301.14" y="388.30" font-size="6.5" text-anchor="middle" fill="#111" >1</text>
<line x1="338.28" y1="378.00" x2="338.28" y2="380.40" stroke="#555" stroke-width="0.9"/>
<text x="338.28" y="388.30" font-size="6.5" text-anchor="middle" fill="#111" >2</text>
<line x1="375.42" y1="378.00" x2="375.42" y2="380.40" stroke="#555" stroke-width="0.9"/>
<text x="375.42" y="388.30" font-size="6.5" text-anchor="middle" fill="#111" >3</text>
<line x1="412.56" y1="378.00" x2="412.56" y2="380.40" stroke="#555" stroke-width="0.9"/>
<text x="412.56" y="388.30" font-size="6.5" text-anchor="middle" fill="#111" >4</text>
<line x1="449.70" y1="378.00" x2="449.70" y2="380.40" stroke="#555" stroke-width="0.9"/>
<text x="449.70" y="388.30" font-size="6.5" text-anchor="middle" fill="#111" >5</text>
<line x1="264.00" y1="261.70" x2="264.00" y2="378.30" stroke="#c4c4c4" stroke-width="1.6"/>
<line x1="263.70" y1="378.00" x2="450.00" y2="378.00" stroke="#c4c4c4" stroke-width="1.6"/>
<text x="0" y="0" font-size="6.5" text-anchor="middle" fill="#111" transform="translate(242.60,320.00) rotate(-90)">Patients surviving (%)</text>
<text x="356.85" y="398.10" font-size="6.5" text-anchor="middle" fill="#111" >Time since start of IO treatment (years)</text>
<text x="407.90" y="320.80" font-size="6.5" text-anchor="start" fill="#111" >Thymic health</text>
<line x1="408.10" y1="327.20" x2="414.30" y2="327.20" stroke="#d6404f" stroke-width="1.1"/>
<text x="416.50" y="329.50" font-size="6.5" text-anchor="start" fill="#111" >High</text>
<line x1="408.10" y1="335.00" x2="414.30" y2="335.00" stroke="#f4a583" stroke-width="1.1"/>
<text x="416.50" y="337.30" font-size="6.5" text-anchor="start" fill="#111" >Average</text>
<line x1="408.10" y1="342.80" x2="414.30" y2="342.80" stroke="#3a8bc6" stroke-width="1.1"/>
<text x="416.50" y="345.10" font-size="6.5" text-anchor="start" fill="#111" >Low</text>
<text x="284.00" y="280.20" font-size="6.5" text-anchor="start" fill="#111" ><tspan font-style="italic">n</tspan> = 120</text>
<text x="284.00" y="288.90" font-size="6.5" text-anchor="start" fill="#111" >HR high: 0.55 (95% CI, 0.30–1.01)</text>
<text x="284.00" y="297.60" font-size="6.5" text-anchor="start" fill="#111" >HR average: 0.79 (95% CI, 0.49–1.29)</text>
<text x="401.30" y="291.10" font-size="6.5" text-anchor="start" fill="#111" ><tspan font-style="italic">P</tspan> = 0.1421</text>
<text x="264.00" y="407.30" font-size="6.5" text-anchor="start" fill="#111" >At risk</text>
<text x="254.80" y="417.30" font-size="6.5" text-anchor="end" fill="#111" >High</text>
<text x="264.00" y="417.30" font-size="6.5" text-anchor="middle" fill="#111" >30</text>
<text x="301.14" y="417.30" font-size="6.5" text-anchor="middle" fill="#111" >17</text>
<text x="338.28" y="417.30" font-size="6.5" text-anchor="middle" fill="#111" >5</text>
<text x="375.42" y="417.30" font-size="6.5" text-anchor="middle" fill="#111" >3</text>
<text x="412.56" y="417.30" font-size="6.5" text-anchor="middle" fill="#111" >2</text>
<text x="449.70" y="417.30" font-size="6.5" text-anchor="middle" fill="#111" >2</text>
<text x="254.80" y="425.10" font-size="6.5" text-anchor="end" fill="#111" >Average</text>
<text x="264.00" y="425.10" font-size="6.5" text-anchor="middle" fill="#111" >60</text>
<text x="301.14" y="425.10" font-size="6.5" text-anchor="middle" fill="#111" >22</text>
<text x="338.28" y="425.10" font-size="6.5" text-anchor="middle" fill="#111" >8</text>
<text x="375.42" y="425.10" font-size="6.5" text-anchor="middle" fill="#111" >5</text>
<text x="412.56" y="425.10" font-size="6.5" text-anchor="middle" fill="#111" >2</text>
<text x="449.70" y="425.10" font-size="6.5" text-anchor="middle" fill="#111" >1</text>
<text x="254.80" y="432.70" font-size="6.5" text-anchor="end" fill="#111" >Low</text>
<text x="264.00" y="432.70" font-size="6.5" text-anchor="middle" fill="#111" >30</text>
<text x="301.14" y="432.70" font-size="6.5" text-anchor="middle" fill="#111" >12</text>
<text x="338.28" y="432.70" font-size="6.5" text-anchor="middle" fill="#111" >4</text>
<text x="375.42" y="432.70" font-size="6.5" text-anchor="middle" fill="#111" >0</text>
<text x="412.56" y="432.70" font-size="6.5" text-anchor="middle" fill="#111" >0</text>
<text x="449.70" y="432.70" font-size="6.5" text-anchor="middle" fill="#111" >0</text>
<text x="242.70" y="447.40" font-size="6.5" text-anchor="start" fill="#111" >Thymic health</text>
<text x="291.40" y="447.40" font-size="6.5" text-anchor="start" fill="#111" >Number</text>
<text x="340.60" y="447.40" font-size="6.5" text-anchor="start" fill="#111" >Hazard ratio</text>
<text x="402.00" y="447.40" font-size="6.5" text-anchor="start" fill="#111" >HR</text>
<text x="425.70" y="447.40" font-size="6.5" text-anchor="start" fill="#111" >95% CI</text>
<text x="242.70" y="461.30" font-size="6.5" text-anchor="start" fill="#111" >Low</text>
<text x="314.80" y="461.30" font-size="6.5" text-anchor="end" fill="#111" >30</text>
<text x="242.70" y="468.30" font-size="6.5" text-anchor="start" fill="#111" >Average</text>
<text x="314.80" y="468.30" font-size="6.5" text-anchor="end" fill="#111" >60</text>
<text x="242.70" y="475.10" font-size="6.5" text-anchor="start" fill="#111" >High</text>
<text x="314.80" y="475.10" font-size="6.5" text-anchor="end" fill="#111" >30</text>
<text x="402.00" y="461.30" font-size="6.5" text-anchor="start" fill="#111" >Reference</text>
<text x="402.00" y="468.30" font-size="6.5" text-anchor="start" fill="#111" >0.79 [0.48–1.30]</text>
<text x="402.00" y="475.10" font-size="6.5" text-anchor="start" fill="#111" >0.54 [0.29–1.01]</text>
<line x1="315.91" y1="476.40" x2="399.43" y2="476.40" stroke="#555" stroke-width="0.9"/>
<line x1="316.31" y1="476.40" x2="316.31" y2="479.00" stroke="#666" stroke-width="0.9"/>
<text x="316.31" y="487.60" font-size="6.5" text-anchor="middle" fill="#111" >0.5</text>
<line x1="346.84" y1="476.40" x2="346.84" y2="479.00" stroke="#666" stroke-width="0.9"/>
<text x="346.84" y="487.60" font-size="6.5" text-anchor="middle" fill="#111" >0.75</text>
<line x1="368.50" y1="476.40" x2="368.50" y2="479.00" stroke="#666" stroke-width="0.9"/>
<text x="368.50" y="487.60" font-size="6.5" text-anchor="middle" fill="#111" >1</text>
<line x1="399.03" y1="476.40" x2="399.03" y2="479.00" stroke="#666" stroke-width="0.9"/>
<text x="399.03" y="487.60" font-size="6.5" text-anchor="middle" fill="#111" >1.5</text>
<rect x="365.70" y="456.20" width="5.6" height="5.6" fill="#c2c2c2"/>
<rect x="347.95" y="463.20" width="5.6" height="5.6" fill="#c2c2c2"/>
<rect x="319.30" y="470.00" width="5.6" height="5.6" fill="#c2c2c2"/>
<line x1="368.50" y1="461.80" x2="368.50" y2="476.40" stroke="#555" stroke-width="0.9"/>
<line x1="316.31" y1="466.00" x2="388.26" y2="466.00" stroke="#a8a8a8" stroke-width="0.9"/>
<path d="M316.51,466.00 l1.9,-1.0 v2.0 z" fill="#333"/>
<line x1="316.31" y1="472.80" x2="369.25" y2="472.80" stroke="#a8a8a8" stroke-width="0.9"/>
<path d="M316.51,472.80 l1.9,-1.0 v2.0 z" fill="#333"/>
<rect x="367.95" y="458.45" width="1.1" height="1.1" fill="#444"/>
<rect x="350.20" y="465.45" width="1.1" height="1.1" fill="#444"/>
<rect x="321.55" y="472.25" width="1.1" height="1.1" fill="#444"/>
<text x="415.00" y="487.60" font-size="6.5" text-anchor="start" fill="#111" ><tspan font-style="italic">P</tspan> = 0.1459</text>
<path d="M495.84,262.13L497.30,266.95L498.76,272.06L500.22,277.90L501.68,282.28L503.14,286.66L505.33,293.23L507.52,297.61L510.44,300.53L514.82,304.18L519.20,308.55L523.58,314.39L527.96,318.04L532.34,320.23L536.72,321.40L538.18,322.06L542.55,324.25L548.39,326.15L554.23,327.90L560.07,330.09L565.91,333.74L571.75,335.20L577.59,337.39L583.43,340.31L586.35,341.04L590.00,341.33L590.84,341.04L596.68,342.20L605.44,343.23L614.20,343.96L621.50,345.12L627.34,347.17L636.09,349.07L644.85,350.96L652.15,352.42L660.91,352.72L681.35,352.72" fill="none" stroke="#f4a583" stroke-width="1.0" stroke-linejoin="miter"/>
<path d="M495.84,262.13L497.01,267.68L498.47,274.98L500.22,282.28L502.41,291.04L504.60,299.80L506.79,306.36L509.71,314.39L512.63,317.31L515.55,320.23L518.47,323.88L521.39,327.17L526.50,331.55L533.80,337.39L538.18,338.85L542.55,341.04L548.39,342.79L554.23,344.69L560.07,346.88L565.91,349.07L571.75,350.96L577.59,351.99L583.43,352.72L590.00,353.88L590.84,353.45L596.68,354.91L603.98,355.93L605.44,357.39L617.12,358.26L620.04,358.85L634.64,359.28L637.55,360.74L655.07,361.18L657.99,361.77L672.59,362.20L674.05,363.23L681.35,363.66" fill="none" stroke="#3a8bc6" stroke-width="1.0" stroke-linejoin="miter"/>
<path d="M495.84,262.13L498.03,266.22L499.49,270.60L500.95,274.98L502.41,279.36L503.87,283.01L505.33,287.39L507.52,289.58L509.71,293.96L511.90,296.88L514.82,299.07L519.20,303.45L522.12,307.09L525.77,310.74L530.88,314.39L533.80,317.31L538.18,320.23L538.18,319.14L542.55,322.79L545.47,324.25L549.85,324.98L554.23,327.17L558.61,327.90L564.45,329.07L571.75,330.09L577.59,331.11L583.43,332.28L587.81,332.57L590.00,334.47L591.57,335.20L596.68,336.36L602.52,337.39L608.36,338.41L617.12,338.41L620.77,341.04L627.34,341.33L639.74,341.33L641.20,344.25L650.69,344.69L654.34,346.15L681.35,346.15" fill="none" stroke="#d6404f" stroke-width="1.0" stroke-linejoin="miter"/>
<text x="462.60" y="259.40" font-size="11.5" text-anchor="start" fill="#000" font-weight="bold">f</text>
<line x1="493.40" y1="378.00" x2="495.80" y2="378.00" stroke="#555" stroke-width="0.9"/>
<text x="491.50" y="380.30" font-size="6.5" text-anchor="end" fill="#111" >0</text>
<line x1="493.40" y1="349.00" x2="495.80" y2="349.00" stroke="#555" stroke-width="0.9"/>
<text x="491.50" y="351.30" font-size="6.5" text-anchor="end" fill="#111" >25</text>
<line x1="493.40" y1="320.00" x2="495.80" y2="320.00" stroke="#555" stroke-width="0.9"/>
<text x="491.50" y="322.30" font-size="6.5" text-anchor="end" fill="#111" >50</text>
<line x1="493.40" y1="291.00" x2="495.80" y2="291.00" stroke="#555" stroke-width="0.9"/>
<text x="491.50" y="293.30" font-size="6.5" text-anchor="end" fill="#111" >75</text>
<line x1="493.40" y1="262.00" x2="495.80" y2="262.00" stroke="#555" stroke-width="0.9"/>
<text x="491.50" y="264.30" font-size="6.5" text-anchor="end" fill="#111" >100</text>
<line x1="495.80" y1="378.00" x2="495.80" y2="380.40" stroke="#555" stroke-width="0.9"/>
<text x="495.80" y="388.30" font-size="6.5" text-anchor="middle" fill="#111" >0</text>
<line x1="532.94" y1="378.00" x2="532.94" y2="380.40" stroke="#555" stroke-width="0.9"/>
<text x="532.94" y="388.30" font-size="6.5" text-anchor="middle" fill="#111" >1</text>
<line x1="570.08" y1="378.00" x2="570.08" y2="380.40" stroke="#555" stroke-width="0.9"/>
<text x="570.08" y="388.30" font-size="6.5" text-anchor="middle" fill="#111" >2</text>
<line x1="607.22" y1="378.00" x2="607.22" y2="380.40" stroke="#555" stroke-width="0.9"/>
<text x="607.22" y="388.30" font-size="6.5" text-anchor="middle" fill="#111" >3</text>
<line x1="644.36" y1="378.00" x2="644.36" y2="380.40" stroke="#555" stroke-width="0.9"/>
<text x="644.36" y="388.30" font-size="6.5" text-anchor="middle" fill="#111" >4</text>
<line x1="681.50" y1="378.00" x2="681.50" y2="380.40" stroke="#555" stroke-width="0.9"/>
<text x="681.50" y="388.30" font-size="6.5" text-anchor="middle" fill="#111" >5</text>
<line x1="495.80" y1="261.70" x2="495.80" y2="378.30" stroke="#c4c4c4" stroke-width="1.6"/>
<line x1="495.50" y1="378.00" x2="681.80" y2="378.00" stroke="#c4c4c4" stroke-width="1.6"/>
<text x="0" y="0" font-size="6.5" text-anchor="middle" fill="#111" transform="translate(474.40,320.00) rotate(-90)">Patients surviving (%)</text>
<text x="588.65" y="398.10" font-size="6.5" text-anchor="middle" fill="#111" >Time since start of IO treatment (years)</text>
<text x="641.00" y="266.20" font-size="6.5" text-anchor="start" fill="#111" >Thymic health</text>
<line x1="641.20" y1="272.60" x2="647.40" y2="272.60" stroke="#d6404f" stroke-width="1.1"/>
<text x="649.60" y="274.90" font-size="6.5" text-anchor="start" fill="#111" >High</text>
<line x1="641.20" y1="280.40" x2="647.40" y2="280.40" stroke="#f4a583" stroke-width="1.1"/>
<text x="649.60" y="282.70" font-size="6.5" text-anchor="start" fill="#111" >Average</text>
<line x1="641.20" y1="288.20" x2="647.40" y2="288.20" stroke="#3a8bc6" stroke-width="1.1"/>
<text x="649.60" y="290.50" font-size="6.5" text-anchor="start" fill="#111" >Low</text>
<text x="499.20" y="356.80" font-size="6.5" text-anchor="start" fill="#111" ><tspan font-style="italic">n</tspan> = 1,313</text>
<text x="499.20" y="365.50" font-size="6.5" text-anchor="start" fill="#111" >HR high: 0.60 (95% CI, 0.50–0.72)</text>
<text x="499.20" y="374.20" font-size="6.5" text-anchor="start" fill="#111" >HR average: 0.71 (95% CI, 0.60–0.82)</text>
<text x="612.70" y="370.30" font-size="6.5" text-anchor="start" fill="#111" ><tspan font-style="italic">P</tspan> = 1.62 × 10<tspan font-size="4.3" dy="-2.6">−7</tspan></text>
<text x="495.80" y="407.30" font-size="6.5" text-anchor="start" fill="#111" >At risk</text>
<text x="486.60" y="417.30" font-size="6.5" text-anchor="end" fill="#111" >High</text>
<text x="505.50" y="417.30" font-size="6.5" text-anchor="middle" fill="#111" >329</text>
<text x="532.94" y="417.30" font-size="6.5" text-anchor="middle" fill="#111" >157</text>
<text x="570.08" y="417.30" font-size="6.5" text-anchor="middle" fill="#111" >106</text>
<text x="607.22" y="417.30" font-size="6.5" text-anchor="middle" fill="#111" >71</text>
<text x="644.36" y="417.30" font-size="6.5" text-anchor="middle" fill="#111" >40</text>
<text x="681.50" y="417.30" font-size="6.5" text-anchor="middle" fill="#111" >22</text>
<text x="486.60" y="425.10" font-size="6.5" text-anchor="end" fill="#111" >Average</text>
<text x="505.50" y="425.10" font-size="6.5" text-anchor="middle" fill="#111" >656</text>
<text x="532.94" y="425.10" font-size="6.5" text-anchor="middle" fill="#111" >275</text>
<text x="570.08" y="425.10" font-size="6.5" text-anchor="middle" fill="#111" >162</text>
<text x="607.22" y="425.10" font-size="6.5" text-anchor="middle" fill="#111" >100</text>
<text x="644.36" y="425.10" font-size="6.5" text-anchor="middle" fill="#111" >59</text>
<text x="681.50" y="425.10" font-size="6.5" text-anchor="middle" fill="#111" >27</text>
<text x="486.60" y="432.70" font-size="6.5" text-anchor="end" fill="#111" >Low</text>
<text x="505.50" y="432.70" font-size="6.5" text-anchor="middle" fill="#111" >328</text>
<text x="532.94" y="432.70" font-size="6.5" text-anchor="middle" fill="#111" >99</text>
<text x="570.08" y="432.70" font-size="6.5" text-anchor="middle" fill="#111" >53</text>
<text x="607.22" y="432.70" font-size="6.5" text-anchor="middle" fill="#111" >26</text>
<text x="644.36" y="432.70" font-size="6.5" text-anchor="middle" fill="#111" >18</text>
<text x="681.50" y="432.70" font-size="6.5" text-anchor="middle" fill="#111" >10</text>
<text x="474.00" y="447.40" font-size="6.5" text-anchor="start" fill="#111" >Thymic health</text>
<text x="523.50" y="447.40" font-size="6.5" text-anchor="start" fill="#111" >Number</text>
<text x="571.90" y="447.40" font-size="6.5" text-anchor="start" fill="#111" >Hazard ratio</text>
<text x="636.80" y="447.40" font-size="6.5" text-anchor="start" fill="#111" >HR</text>
<text x="658.00" y="447.40" font-size="6.5" text-anchor="start" fill="#111" >95% CI</text>
<text x="474.00" y="461.30" font-size="6.5" text-anchor="start" fill="#111" >Low</text>
<text x="546.90" y="461.30" font-size="6.5" text-anchor="end" fill="#111" >328</text>
<text x="474.00" y="468.30" font-size="6.5" text-anchor="start" fill="#111" >Average</text>
<text x="546.90" y="468.30" font-size="6.5" text-anchor="end" fill="#111" >656</text>
<text x="474.00" y="475.10" font-size="6.5" text-anchor="start" fill="#111" >High</text>
<text x="546.90" y="475.10" font-size="6.5" text-anchor="end" fill="#111" >329</text>
<text x="634.00" y="461.30" font-size="6.5" text-anchor="start" fill="#111" >Reference</text>
<text x="634.00" y="468.30" font-size="6.5" text-anchor="start" fill="#111" >0.69 [0.59–0.81]</text>
<text x="634.00" y="475.10" font-size="6.5" text-anchor="start" fill="#111" >0.61 [0.51–0.73]</text>
<line x1="547.91" y1="476.40" x2="631.11" y2="476.40" stroke="#555" stroke-width="0.9"/>
<line x1="548.31" y1="476.40" x2="548.31" y2="479.00" stroke="#666" stroke-width="0.9"/>
<text x="548.31" y="487.60" font-size="6.5" text-anchor="middle" fill="#111" >0.5</text>
<line x1="578.72" y1="476.40" x2="578.72" y2="479.00" stroke="#666" stroke-width="0.9"/>
<text x="578.72" y="487.60" font-size="6.5" text-anchor="middle" fill="#111" >0.75</text>
<line x1="600.30" y1="476.40" x2="600.30" y2="479.00" stroke="#666" stroke-width="0.9"/>
<text x="600.30" y="487.60" font-size="6.5" text-anchor="middle" fill="#111" >1</text>
<line x1="630.71" y1="476.40" x2="630.71" y2="479.00" stroke="#666" stroke-width="0.9"/>
<text x="630.71" y="487.60" font-size="6.5" text-anchor="middle" fill="#111" >1.5</text>
<rect x="597.50" y="456.20" width="5.6" height="5.6" fill="#c2c2c2"/>
<rect x="569.67" y="463.20" width="5.6" height="5.6" fill="#c2c2c2"/>
<rect x="560.43" y="470.00" width="5.6" height="5.6" fill="#c2c2c2"/>
<line x1="600.30" y1="461.80" x2="600.30" y2="476.40" stroke="#555" stroke-width="0.9"/>
<line x1="560.73" y1="466.00" x2="584.50" y2="466.00" stroke="#a8a8a8" stroke-width="0.9"/>
<line x1="549.80" y1="472.80" x2="576.70" y2="472.80" stroke="#a8a8a8" stroke-width="0.9"/>
<rect x="599.75" y="458.45" width="1.1" height="1.1" fill="#444"/>
<rect x="571.92" y="465.45" width="1.1" height="1.1" fill="#444"/>
<rect x="562.68" y="472.25" width="1.1" height="1.1" fill="#444"/>
<text x="638.80" y="487.60" font-size="6.5" text-anchor="start" fill="#111" ><tspan font-style="italic">P</tspan> = 2.02 × 10<tspan font-size="4.3" dy="-2.6">−7</tspan></text>
</svg>
</body></html>
